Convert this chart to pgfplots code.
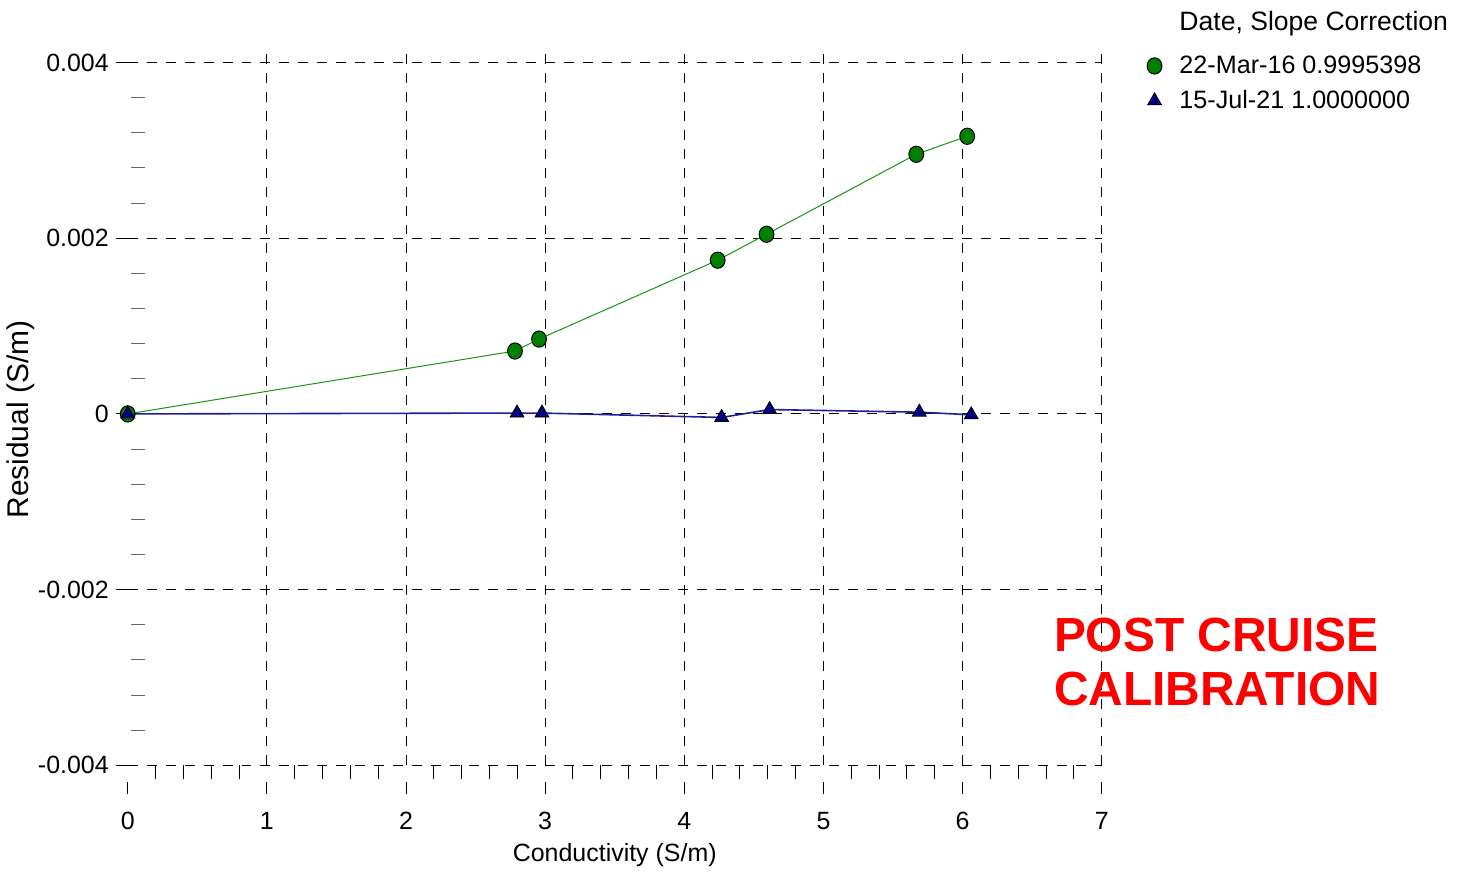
\documentclass[border=0pt]{standalone}
\usepackage{fontspec}
\setmainfont{Liberation Sans}
\usepackage{pgfplots}
\pgfplotsset{compat=1.18}
\definecolor{mkgreen}{RGB}{0,128,0}
\definecolor{lngreen}{RGB}{20,150,20}
\definecolor{mknavy}{RGB}{0,0,128}
\definecolor{lnblue}{RGB}{30,30,150}
\begin{document}
\begin{tikzpicture}
\begin{axis}[
  scale only axis, width=488pt, height=361pt,
  xmin=0, xmax=7, ymin=-0.004, ymax=0.0042,
  clip=false,
  axis line style={draw=none},
  font=\fontsize{12.5}{15}\selectfont,
  /pgf/number format/assume math mode=true,
  scaled y ticks=false,
  tick align=outside,
  xtick pos=bottom, ytick pos=left,
  major tick length=6pt, minor tick length=7pt,
  xtick={0,...,7}, xticklabels={0,1,2,3,4,5,6,7},
  xmajorgrids=false, ymajorgrids=true,
  extra x ticks={1,...,7}, extra x tick labels={},
  extra x tick style={xmajorgrids=true, major tick length=0pt},
  ytick={-0.004,-0.002,0,0.002,0.004},
  yticklabels={-0.004,-0.002,0,0.002,0.004},
  minor x tick num=4, minor y tick num=4,
  every major x tick/.append style={yshift=-8.5pt},
  every minor y tick/.append style={xshift=8.5pt, black!60},
  tick style={black, line width=0.5pt},
  xticklabel style={yshift=-14pt},
  major grid style={black, line width=0.5pt, dash pattern=on 5pt off 4.5pt},
  xlabel={Conductivity (S/m)},
  ylabel={Residual (S/m)},
  xlabel style={at={(rel axis cs:0.5,-0.1247)}, anchor=center},
  ylabel style={at={(rel axis cs:-0.11,0.48)}, anchor=center, font=\fontsize{15}{18}\selectfont},
  legend style={at={(rel axis cs:1.036,1.058)}, anchor=north west, draw=none, fill=none,
    font=\fontsize{12.6}{15}\selectfont, row sep=3pt, cells={anchor=west}},
  legend image code/.code={\draw[#1, only marks] plot coordinates {(0.2cm,0cm)};\path (0.555cm,0cm);},
]
\addlegendimage{empty legend}
\addlegendentry{\raisebox{4pt}{\fontsize{13.3}{16}\selectfont Date, Slope Correction}}
\addplot[lngreen, line width=0.5pt, mark=*, mark size=3.7pt,
  mark options={fill=mkgreen, draw=black, line width=0.5pt, yscale=1.1}] coordinates {
  (0,0) (2.783,0.000716) (2.956,0.000852) (4.240,0.00175)
  (4.591,0.002045) (5.667,0.002955) (6.033,0.00316)
};
\addlegendentry{22-Mar-16 0.9995398}
\addplot[lnblue, line width=0.8pt, mark=triangle*, mark size=4pt,
  mark options={fill=mknavy, draw=black, line width=0.4pt}] coordinates {
  (0,0) (2.798,0.00001) (2.977,0.00001) (4.268,-0.00004)
  (4.613,0.00005) (5.689,0.00002) (6.062,-0.00001)
};
\addlegendentry{15-Jul-21 1.0000000}
\node[text=red, font=\fontsize{24}{27}\selectfont\bfseries, align=left, anchor=center]
  at (axis cs:7.83,-0.00282) {POST CRUISE\\CALIBRATION};
\path (rel axis cs:-0.1281,1.0623) rectangle (rel axis cs:1.374,-0.1468);
\end{axis}
\end{tikzpicture}
\end{document}
